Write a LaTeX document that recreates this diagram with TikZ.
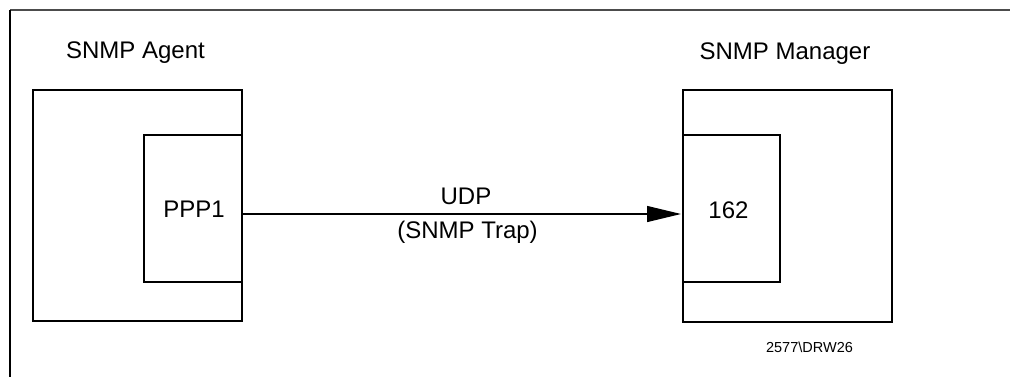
\documentclass[tikz,border=0pt]{standalone}
\usepackage{fontspec}
\setmainfont{Liberation Sans}
\usetikzlibrary{arrows.meta}
\begin{document}
\begin{tikzpicture}[x=1bp,y=-1bp,
  boxline/.style={draw=black,line width=1.2bp},
  lbl/.style={anchor=base,inner sep=0pt,font=\fontsize{24bp}{28bp}\selectfont},
  small/.style={anchor=base,inner sep=0pt,font=\fontsize{14.5bp}{17bp}\selectfont},
  conn/.style={draw=black,line width=1.2bp,-{Triangle[length=34bp,width=16bp]}}]
\useasboundingbox (0,0) rectangle (1010,377);
% frame
\draw[draw=black!70,line width=1.6bp] (1010,10) -- (10,10);
\draw[draw=black,line width=1.4bp] (10,10) -- (10,377);
% agent
\node[boxline,inner sep=0pt,minimum width=209bp,minimum height=231bp] (agent) at (137.5,205.5) {};
\coordinate (pa1) at (242,135);
\coordinate (pa2) at (144,135);
\coordinate (pa3) at (144,282);
\coordinate (pa4) at (242,282);
\draw[boxline] (pa1) -- (pa2) -- (pa3) -- (pa4);
\coordinate (ppport) at (242,214);
% manager
\node[boxline,inner sep=0pt,minimum width=209bp,minimum height=232bp] (manager) at (787.5,206) {};
\coordinate (pm1) at (683,135);
\coordinate (pm2) at (780,135);
\coordinate (pm3) at (780,282);
\coordinate (pm4) at (683,282);
\draw[boxline] (pm1) -- (pm2) -- (pm3) -- (pm4);
\coordinate (mport) at (681,214);
% labels
\node[lbl] (tagent) at (135.5,58) {SNMP Agent};
\node[lbl] (tmanager) at (785,59) {SNMP Manager};
\node[lbl] (tppp) at (194,217) {PPP1};
\node[lbl] (t162) at (728.5,218) {162};
\node[lbl] (tudp) at (466,204) {UDP};
\node[lbl] (ttrap) at (467.5,238) {(SNMP Trap)};
\node[small] (tdrw) at (809.5,352) {2577\textbackslash DRW26};
% connector
\draw[conn] (ppport) -- (mport);
\end{tikzpicture}
\end{document}
